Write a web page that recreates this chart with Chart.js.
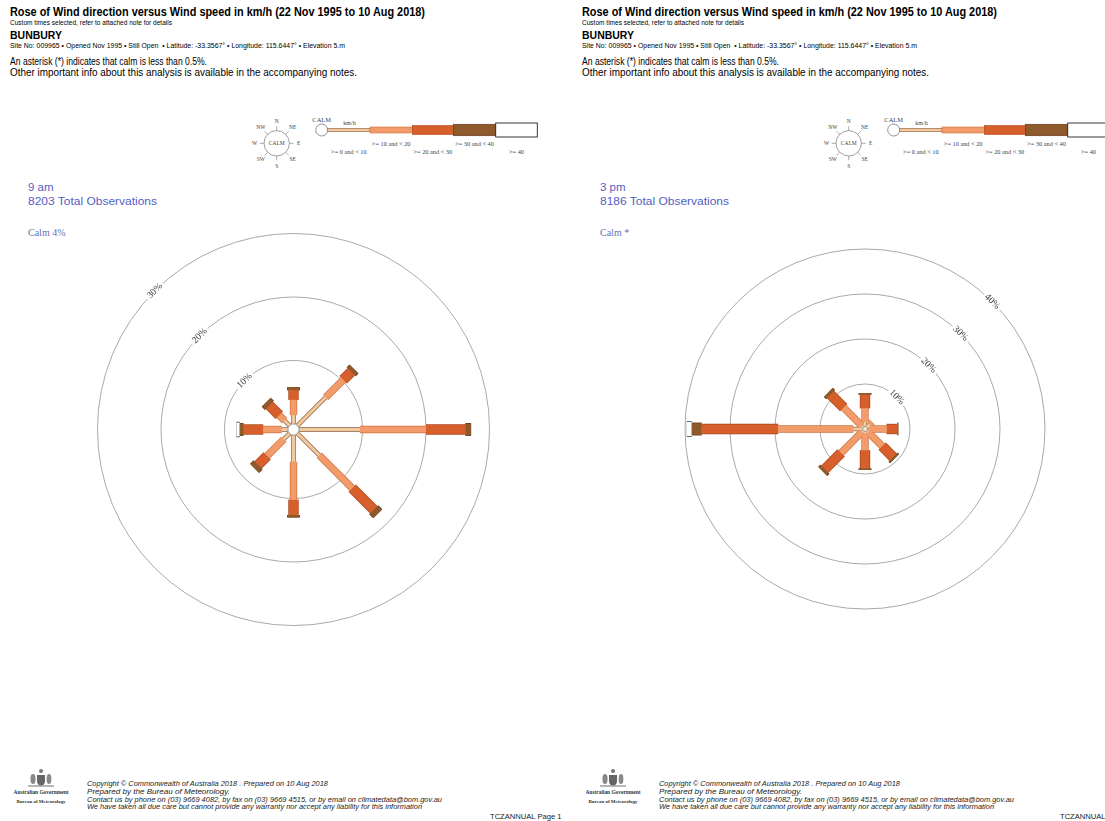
<!DOCTYPE html>
<html>
<head>
<meta charset="utf-8">
<title>Rose of Wind direction versus Wind speed - Bunbury</title>
<script src="https://cdn.jsdelivr.net/npm/chart.js@4.4.1/dist/chart.umd.min.js"></script>
<style>
  html, body { margin: 0; padding: 0; background: #fff; }
  #page { position: relative; width: 1105px; height: 821px; overflow: hidden; }
  #paper { position: absolute; left: 0; top: 0; }
  canvas { position: absolute; }
  #rose9 { left: 63px; top: 219px; }
  #rose3 { left: 635px; top: 219px; }
  text { white-space: pre; }
  .sans { font-family: "Liberation Sans", Arial, sans-serif; }
  .serif { font-family: "Liberation Serif", "Times New Roman", serif; }
</style>
</head>
<body>
<div id="page">
  <svg id="paper" width="1105" height="821" xmlns="http://www.w3.org/2000/svg"></svg>
  <canvas id="rose9" width="461" height="421"></canvas>
  <canvas id="rose3" width="460" height="420"></canvas>
</div>
<script>
const directions = ['N', 'NE', 'E', 'SE', 'S', 'SW', 'W', 'NW'];
const speedBands = ['>= 0 and < 10', '>= 10 and < 20', '>= 20 and < 30', '>= 30 and < 40', '>= 40'];

// 9 am : % of observations per direction, one list per speed band (km/h)
const am_0_10  = [1.4, 6.3, 9.6, 4.9, 4.2, 1.3, 1.0, 1.1];
const am_10_20 = [2.4, 3.9, 10.4, 7.3, 6.0, 3.7, 2.9, 1.2];
const am_20_30 = [1.5, 1.8, 6.2, 4.8, 2.4, 2.0, 3.1, 2.2];
const am_30_40 = [0.5, 0.6, 0.9, 0.9, 0.4, 0.8, 0.6, 0.7];
const am_40    = [0, 0, 0, 0, 0, 0, 0.5, 0];
const amRings  = [10, 20, 30];

// 3 pm
const pm_0_10  = [1.6, 1.5, 0.7, 1.0, 1.0, 1.0, 2.6, 1.0];
const pm_10_20 = [3.0, 0.7, 4.1, 4.4, 3.7, 6.5, 16.7, 5.7];
const pm_20_30 = [3.0, 0, 2.4, 3.4, 4.0, 5.1, 17.0, 4.1];
const pm_30_40 = [0.4, 0, 0.2, 0.5, 0.4, 0.7, 2.2, 0.7];
const pm_40    = [0, 0, 0, 0, 0, 0, 1.1, 0];
const pmRings  = [10, 20, 30, 40];

const periods = [
  { label: '9 am', obs: '8203 Total Observations', calm: 'Calm 4%' },
  { label: '3 pm', obs: '8186 Total Observations', calm: 'Calm *' }
];

// band styles (shared by the legend strip and the roses)
const bandFill  = ['#f3c9a0', '#f39c6b', '#d65f2b', '#8f5a2b', '#ffffff'];
const bandEdge  = ['#8a5a38', '#cf6f3f', '#a8461c', '#5e3515', '#222222'];
const bandWidth = [3, 6, 9, 11.5, 14];

// ---------- page furniture (svg) ----------
const SVG_NS = 'http://www.w3.org/2000/svg';
const paper = document.getElementById('paper');
function el(tag, attrs, text) {
  const e = document.createElementNS(SVG_NS, tag);
  for (const k in attrs) e.setAttribute(k, attrs[k]);
  if (text !== undefined) e.textContent = text;
  paper.appendChild(e);
  return e;
}
function t(x, y, s, size, extra) {
  const a = Object.assign({ x: x, y: y, 'font-size': size, class: 'sans', fill: '#000' }, extra || {});
  if (a.len) { a.textLength = a.len; a.lengthAdjust = 'spacingAndGlyphs'; delete a.len; }
  return el('text', a, s);
}

function drawCompass(cx, cy) {
  el('circle', { cx: cx, cy: cy, r: 12.7, fill: '#fff', stroke: '#777', 'stroke-width': 0.7 });
  t(cx, cy + 2, 'CALM', 5.5, { class: 'serif', 'text-anchor': 'middle', fill: '#444' });
  directions.forEach((d, i) => {
    const a = i * Math.PI / 4, s = Math.sin(a), c = Math.cos(a);
    el('line', { x1: cx + 12.7 * s, y1: cy - 12.7 * c, x2: cx + 17 * s, y2: cy - 17 * c, stroke: '#777', 'stroke-width': 0.6 });
    const rr = (d === 'E' || d === 'W') ? 22 : 22.5;
    t(cx + rr * s, cy - rr * c + 2, d, 5.5, { class: 'serif', 'text-anchor': 'middle', fill: '#444' });
  });
}

function drawLegendStrip(ox) {
  const y = 130, starts = [327.7, 370, 412.3, 453.3, 495.7, 537.3];
  t(ox + 321.7, 121.5, 'CALM', 6.5, { class: 'serif', 'text-anchor': 'middle', fill: '#444' });
  t(ox + 349.5, 124.5, 'km/h', 6, { class: 'serif', 'text-anchor': 'middle', fill: '#444' });
  for (let b = 0; b < 5; b++) {
    const h = bandWidth[b] + (b === 0 ? 0.3 : 0);
    el('rect', { x: ox + starts[b], y: y - h / 2, width: starts[b + 1] - starts[b], height: h,
      fill: bandFill[b], stroke: bandEdge[b], 'stroke-width': b === 4 ? 0.9 : 0.6 });
    const upper = b % 2 === 1;
    t(ox + (starts[b] + starts[b + 1]) / 2, upper ? 146 : 154, speedBands[b], 6.3,
      { class: 'serif', 'text-anchor': 'middle', fill: '#444' });
  }
  el('circle', { cx: ox + 321.7, cy: y, r: 6, fill: '#fff', stroke: '#666', 'stroke-width': 0.7 });
}

function drawCrest(cx, cy) {
  el('path', { d: `M${cx - 4} ${cy - 5} h8 v6 q0 4 -4 5 q-4 -1 -4 -5 z`, fill: '#666' });
  el('ellipse', { cx: cx - 8, cy: cy - 1, rx: 2.6, ry: 5, fill: '#888' });
  el('ellipse', { cx: cx + 8, cy: cy - 1, rx: 2.4, ry: 5, fill: '#888' });
  el('circle', { cx: cx, cy: cy - 9, r: 2, fill: '#777' });
  el('line', { x1: cx - 13, y1: cy + 6, x2: cx + 13, y2: cy + 6, stroke: '#999', 'stroke-width': 1.4 });
}

const titleText = 'Rose of Wind direction versus Wind speed in km/h (22 Nov 1995 to 10 Aug 2018)';
const footLines = [
  'Copyright \u00a9 Commonwealth of Australia 2018 . Prepared on 10 Aug 2018',
  'Prepared by the Bureau of Meteorology.',
  'Contact us by phone on (03) 9669 4082, by fax on (03) 9669 4515, or by email on climatedata@bom.gov.au',
  'We have taken all due care but cannot provide any warranty nor accept any liability for this information'
];
const footLens = [241, 143, 355, 335];

function drawPage(ox, p, pageTag, tagX) {
  t(ox + 10, 16, titleText, 12.5, { 'font-weight': 'bold', len: 415 });
  t(ox + 10, 25, 'Custom times selected, refer to attached note for details', 6.5, { len: 162 });
  t(ox + 10, 38.5, 'BUNBURY', 10.7, { 'font-weight': 'bold', len: 52 });
  t(ox + 10, 47.5, 'Site No: 009965 \u2022 Opened Nov 1995 \u2022 Still Open  \u2022 Latitude: -33.3567\u00b0 \u2022 Longitude: 115.6447\u00b0 \u2022 Elevation 5.m', 6.3, { len: 335 });
  t(ox + 10, 64.5, 'An asterisk (*) indicates that calm is less than 0.5%.', 10.5, { len: 197 });
  t(ox + 10, 75.5, 'Other important info about this analysis is available in the accompanying notes.', 10.5, { len: 347 });

  drawCompass(ox + 276.7, 143.3);
  drawLegendStrip(ox);

  t(ox + 28, 191, p.label, 11.5, { fill: '#5560c4' });
  t(ox + 28, 204.5, p.obs, 11.5, { fill: '#5560c4', len: 129 });
  t(ox + 28, 236, p.calm, 10, { class: 'serif', fill: '#6870b4' });

  drawCrest(ox + 41, 780);
  t(ox + 41, 794, 'Australian Government', 5.6, { class: 'serif', 'font-weight': 'bold', 'text-anchor': 'middle', len: 55, fill: '#333' });
  t(ox + 41, 803, 'Bureau of Meteorology', 5, { class: 'serif', 'font-weight': 'bold', 'text-anchor': 'middle', len: 49, fill: '#333' });
  footLines.forEach((s, i) => t(ox + 87, 786 + i * 7.8, s, 7.6, { 'font-style': 'italic', len: footLens[i], fill: '#222' }));
  t(tagX, 819, pageTag, 7.6, { fill: '#222' });
}
drawPage(0, periods[0], 'TCZANNUAL Page 1', 490);
drawPage(572, periods[1], 'TCZANNUAL', 1060);

// ---------- the roses (Chart.js) ----------
const ringPlugin = {
  id: 'rings',
  beforeDatasetsDraw(chart, args, opts) {
    const { ctx } = chart, x = chart.scales.x, y = chart.scales.y;
    const cx = x.getPixelForValue(0), cy = y.getPixelForValue(0);
    const a = opts.labelAngle * Math.PI / 180;
    ctx.save();
    ctx.strokeStyle = '#8c8c8c';
    ctx.lineWidth = 0.75;
    opts.rings.forEach(v => {
      const r = x.getPixelForValue(opts.hub + v) - cx;
      ctx.beginPath();
      ctx.arc(cx, cy, r, 0, Math.PI * 2);
      ctx.stroke();
    });
    ctx.font = '9.5px "Liberation Serif", serif';
    ctx.textAlign = 'center';
    ctx.textBaseline = 'middle';
    opts.rings.forEach(v => {
      const r = x.getPixelForValue(opts.hub + v) - cx;
      const s = v + '%', w = ctx.measureText(s).width;
      ctx.save();
      ctx.translate(cx + r * Math.sin(a), cy - r * Math.cos(a));
      ctx.rotate(a);
      ctx.fillStyle = '#fff';
      ctx.fillRect(-w / 2 - 2, -5, w + 4, 10);
      ctx.fillStyle = '#333';
      ctx.fillText(s, 0, 0);
      ctx.restore();
    });
    ctx.restore();
  },
  afterDatasetsDraw(chart, args, opts) {
    const { ctx } = chart, x = chart.scales.x, y = chart.scales.y;
    const cx = x.getPixelForValue(0), cy = y.getPixelForValue(0);
    const r = opts.hub > 0 ? x.getPixelForValue(opts.hub) - cx : opts.hubPx;
    ctx.save();
    ctx.beginPath();
    ctx.arc(cx, cy, r, 0, Math.PI * 2);
    ctx.fillStyle = opts.hub > 0 ? '#fff' : '#f4edc8';
    ctx.fill();
    ctx.strokeStyle = '#777';
    ctx.lineWidth = 0.7;
    ctx.stroke();
    ctx.restore();
  }
};

function roseDatasets(bands, hub) {
  const sets = [];
  directions.forEach((dir, i) => {
    const a = i * Math.PI / 4;
    let r = hub;
    bands.forEach((vals, b) => {
      const v = vals[i];
      if (!v) return;
      const pts = [r, r + v].map(d => ({ x: d * Math.sin(a), y: d * Math.cos(a) }));
      r += v;
      sets.push({ label: dir + ' ' + speedBands[b], data: pts, showLine: true, borderColor: bandFill[b],
        borderWidth: bandWidth[b], borderCapStyle: 'butt', pointRadius: 0, order: 1 });
      sets.push({ label: dir + ' edge', data: pts, showLine: true, borderColor: bandEdge[b],
        borderWidth: bandWidth[b] + 1.4, borderCapStyle: 'butt', pointRadius: 0, order: 2 });
    });
  });
  return sets;
}

function makeRose(id, bands, rings, labelAngle, pxPerUnit, hub, hubPx) {
  const canvas = document.getElementById(id);
  const hx = canvas.width / 2 / pxPerUnit, hy = canvas.height / 2 / pxPerUnit;
  return new Chart(canvas, {
    type: 'scatter',
    data: { datasets: roseDatasets(bands, hub) },
    options: {
      responsive: false,
      animation: false,
      devicePixelRatio: 1,
      events: [],
      layout: { padding: 0 },
      scales: {
        x: { type: 'linear', min: -hx, max: hx, display: false },
        y: { type: 'linear', min: -hy, max: hy, display: false }
      },
      plugins: {
        legend: { display: false },
        tooltip: { enabled: false },
        rings: { rings: rings, labelAngle: labelAngle, hub: hub, hubPx: hubPx }
      }
    },
    plugins: [ringPlugin]
  });
}

makeRose('rose9', [am_0_10, am_10_20, am_20_30, am_30_40, am_40], amRings, -45, 6.35, 0.87, 0);
makeRose('rose3', [pm_0_10, pm_10_20, pm_20_30, pm_30_40, pm_40], pmRings, 45, 4.5, 0, 2.5);
</script>
</body>
</html>
